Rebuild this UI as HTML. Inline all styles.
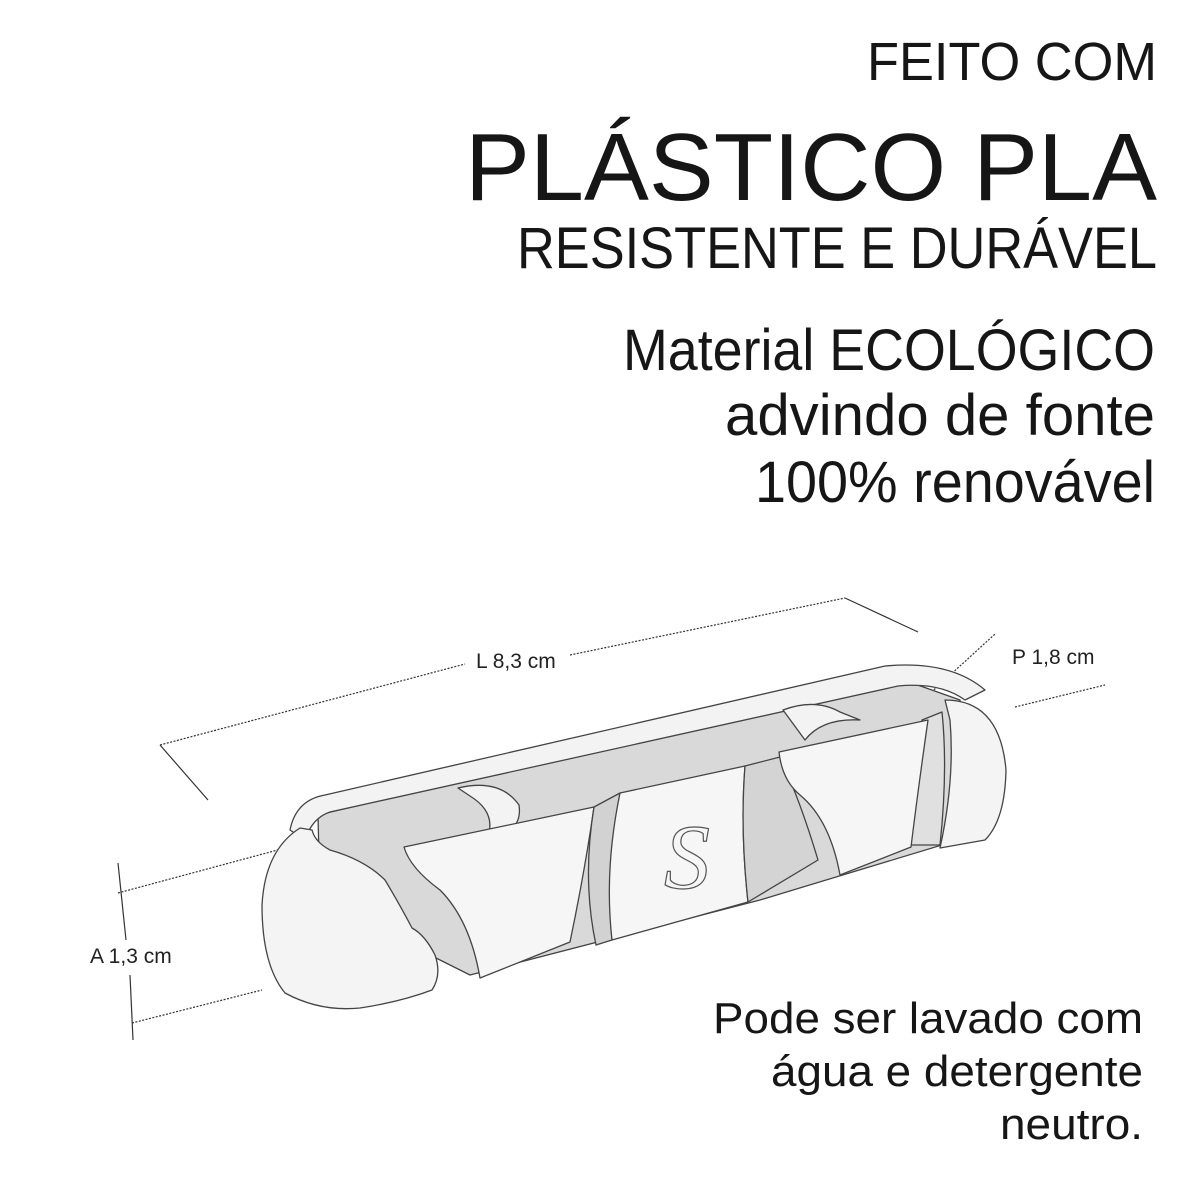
<!DOCTYPE html>
<html><head><meta charset="utf-8"><style>
html,body{margin:0;padding:0;background:#fff;}
svg{display:block}
</style></head><body>
<svg width="1200" height="1200" viewBox="0 0 1200 1200" xmlns="http://www.w3.org/2000/svg">
<rect width="1200" height="1200" fill="#fff"/>
<g font-family="Liberation Sans, Arial, sans-serif" fill="#161616" text-anchor="end">
<text x="1157" y="80" font-size="54" textLength="290" lengthAdjust="spacingAndGlyphs">FEITO COM</text>
<text x="1157" y="200" font-size="96" textLength="692" lengthAdjust="spacingAndGlyphs">PLÁSTICO PLA</text>
<text x="1157" y="268" font-size="58" textLength="640" lengthAdjust="spacingAndGlyphs">RESISTENTE E DURÁVEL</text>
<text x="1155" y="370" font-size="58" textLength="532" lengthAdjust="spacingAndGlyphs">Material ECOLÓGICO</text>
<text x="1155" y="435" font-size="58" textLength="430" lengthAdjust="spacingAndGlyphs">advindo de fonte</text>
<text x="1155" y="502" font-size="58" textLength="400" lengthAdjust="spacingAndGlyphs">100% renovável</text>
<text x="1143" y="1033" font-size="44" textLength="430" lengthAdjust="spacingAndGlyphs">Pode ser lavado com</text>
<text x="1143" y="1086" font-size="44" textLength="372" lengthAdjust="spacingAndGlyphs">água e detergente</text>
<text x="1143" y="1139" font-size="44" textLength="143" lengthAdjust="spacingAndGlyphs">neutro.</text>
</g>
<g font-family="Liberation Sans, Arial, sans-serif" fill="#222" font-size="21">
<text x="476" y="668">L 8,3 cm</text>
<text x="1012" y="664">P 1,8 cm</text>
<text x="90" y="963">A 1,3 cm</text>
</g>
<g stroke="#333" stroke-width="1.2" fill="none" stroke-dasharray="2,1.5">
<line x1="160" y1="745" x2="465" y2="664"/>
<line x1="570" y1="655" x2="845" y2="598"/>
<line x1="890" y1="730" x2="995" y2="634"/>
<line x1="1015" y1="707" x2="1105" y2="685"/>
<line x1="118" y1="893" x2="285" y2="848"/>
<line x1="132" y1="1023" x2="262" y2="990"/>
</g>
<g stroke="#333" stroke-width="1.2" fill="none">
<line x1="160" y1="745" x2="208" y2="800"/>
<line x1="845" y1="598" x2="918" y2="632"/>
<line x1="118" y1="863" x2="126" y2="940"/>
<line x1="130" y1="975" x2="133" y2="1040"/>
</g>
<g stroke="#444" stroke-width="1.3" stroke-linejoin="round">
<!-- gray interior -->
<path d="M318,815 L898,678 L960,700 L975,835 L760,900 L470,975 L320,900 Z" fill="#d9d9d9"/>
<!-- rim band -->
<path d="M290,830 Q296,800 325,795 L885,666 Q950,660 985,690 L965,700 Q940,682 898,686 L330,812 Q312,818 305,840 Z" fill="#f3f3f3"/>
<!-- dividers -->
<path d="M458,788 Q500,778 519,805 Q522,825 505,833 L488,836 Q496,812 470,796 Z" fill="#f3f3f3"/>
<path d="M783,710 Q815,698 840,712 L860,720 Q822,718 805,740 Z" fill="#f3f3f3"/>
<!-- right end cap -->
<path d="M945,700 Q1000,700 1006,770 Q1005,820 985,840 L940,848 Q955,780 950,720 Z" fill="#f4f4f4"/>
<path d="M922,720 L942,712 Q948,770 940,845 L908,845 Q918,790 922,720 Z" fill="#e0e0e0"/>
<!-- left cap -->
<path d="M300,828 Q265,850 262,905 Q262,965 285,993 Q320,1012 360,1008 Q400,1002 432,990 Q442,975 435,955 Q425,935 412,928 Q400,905 385,880 Q365,860 330,850 Q315,842 312,830 Z" fill="#f4f4f4"/>
<!-- tab 1 -->
<path d="M404,847 L594,807 Q585,870 570,942 L480,978 Q470,920 440,890 Q410,868 404,847 Z" fill="#f6f6f6"/>
<!-- S tab side -->
<path d="M594,807 L620,793 Q606,870 612,940 L596,945 Q582,880 594,807 Z" fill="#d2d2d2"/>
<!-- S tab -->
<path d="M620,793 L745,766 Q740,830 748,902 L612,940 Q604,870 620,793 Z" fill="#f6f6f6"/>
<path d="M745,766 L780,757 Q800,800 818,860 L748,902 Q740,830 745,766 Z" fill="#d4d4d4"/>
<!-- tab 3 -->
<path d="M779,752 L928,720 Q918,790 911,847 L840,875 Q830,820 800,795 Q782,780 779,752 Z" fill="#f6f6f6"/>
</g>
<text x="664" y="888" font-family="Liberation Serif, serif" font-size="92" fill="#f6f6f6" stroke="#555" stroke-width="1.2" font-style="italic">S</text>
</svg>
</body></html>
